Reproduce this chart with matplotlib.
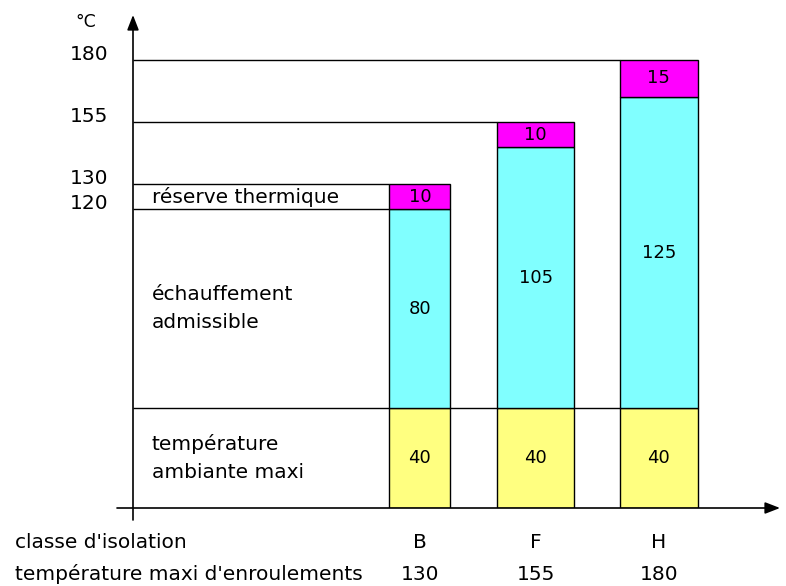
import numpy as np
import matplotlib.pyplot as plt
import matplotlib.transforms as mtransforms

# === Data ===
classes = ["B", "F", "H"]
t_max = [130, 155, 180]          # température maxi d'enroulements
ambiante = [40, 40, 40]          # température ambiante maxi
echauffement = [80, 105, 125]    # échauffement admissible
reserve = [10, 10, 15]           # réserve thermique
y_ticks = [120, 130, 155, 180]

# === Style ===
x_pos = np.array([0.0, 0.965, 1.99])
bar_w = [0.51, 0.64, 0.65]
c_amb = "#ffff80"
c_ech = "#80ffff"
c_res = "#ff00ff"
fs = 14.5

W, H = 786, 586
fig = plt.figure(figsize=(W / 100, H / 100), dpi=100)
# axes: y axis at x=133px, x axis at y=508px, top at 15px, right at 780px
ax = fig.add_axes([133 / W, 1 - 508 / H, (780 - 133) / W, (508 - 15) / H])
ax.set_xlim(-2.39, 3.0)
ax.set_ylim(0, 198)
ax.axis("off")

# stacked bars
bot2 = np.array(ambiante) + np.array(echauffement)
ax.bar(x_pos, ambiante, width=bar_w, color=c_amb, edgecolor="black", lw=1, zorder=3)
ax.bar(x_pos, echauffement, width=bar_w, bottom=ambiante, color=c_ech,
       edgecolor="black", lw=1, zorder=3)
ax.bar(x_pos, reserve, width=bar_w, bottom=bot2, color=c_res,
       edgecolor="black", lw=1, zorder=3)

# guide lines from the y axis
x0 = ax.get_xlim()[0]
for xp, w, top in zip(x_pos, bar_w, t_max):
    ax.hlines(top, x0, xp - w / 2, color="black", lw=1, zorder=2)
ax.hlines(bot2[0], x0, x_pos[0] - bar_w[0] / 2, color="black", lw=1, zorder=2)
ax.hlines(ambiante[0], x0, x_pos[-1] + bar_w[-1] / 2, color="black", lw=1, zorder=2)

# values inside the bars
for i in range(len(classes)):
    ax.text(x_pos[i], ambiante[i] / 2, str(ambiante[i]), ha="center", va="center",
            fontsize=fs - 1.5, zorder=4)
    ax.text(x_pos[i], ambiante[i] + echauffement[i] / 2, str(echauffement[i]),
            ha="center", va="center", fontsize=fs - 1.5, zorder=4)
    ax.text(x_pos[i], bot2[i] + reserve[i] / 2, str(reserve[i]), ha="center",
            va="center", fontsize=fs - 1.5, zorder=4)

# left-side descriptions
ty = ax.get_yaxis_transform()
lx = 19 / 647
ax.text(lx, bot2[0] + reserve[0] / 2, "réserve thermique", transform=ty,
        ha="left", va="center", fontsize=fs)
ax.text(lx, ambiante[0] + echauffement[0] / 2, "échauffement\nadmissible",
        transform=ty, ha="left", va="center", fontsize=fs, linespacing=1.6)
ax.text(lx, ambiante[0] / 2, "température\nambiante maxi", transform=ty,
        ha="left", va="center", fontsize=fs, linespacing=1.6)

# y tick labels (placed just above their lines)
off = mtransforms.ScaledTranslation(0, 4 / 72, fig.dpi_scale_trans)
for v in y_ticks:
    ax.text(-25 / 647, v, str(v), transform=ty + off, ha="right", va="center",
            fontsize=fs)
fig.text(75 / W, 1 - 22 / H, "°C", ha="left", va="center", fontsize=fs - 2)

# axes with arrows
ax.annotate("", xy=(0, 1), xytext=(0, -12 / 493), xycoords="axes fraction",
            arrowprops=dict(arrowstyle="-|>,head_width=0.35,head_length=0.9",
                            color="black", lw=1.2, shrinkA=0, shrinkB=0))
ax.annotate("", xy=(1, 0), xytext=(-16 / 647, 0), xycoords="axes fraction",
            arrowprops=dict(arrowstyle="-|>,head_width=0.35,head_length=0.9",
                            color="black", lw=1.2, shrinkA=0, shrinkB=0))

# bottom labels
bt = mtransforms.blended_transform_factory(ax.transData, fig.transFigure)
fig.text(15 / W, 1 - 543 / H, "classe d'isolation", ha="left", va="center", fontsize=fs)
fig.text(15 / W, 1 - 574 / H, "température maxi d'enroulements", ha="left",
         va="center", fontsize=fs)
for xp, c, t in zip(x_pos, classes, t_max):
    ax.text(xp, 1 - 543 / H, c, transform=bt, ha="center", va="center", fontsize=fs)
    ax.text(xp, 1 - 574 / H, str(t), transform=bt, ha="center", va="center", fontsize=fs)

fig.savefig("out.png", dpi=100)
